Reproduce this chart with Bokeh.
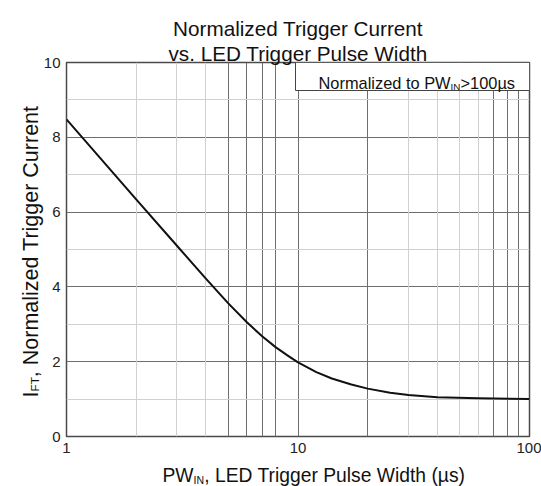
import math
from bokeh.plotting import figure
from bokeh.models import Label, BoxAnnotation, Grid, FixedTicker
from bokeh.embed import file_html
from bokeh.resources import INLINE

# ---- data ----
pulse_width_us = [1, 2, 3, 4, 5, 6, 7, 8, 9, 10, 12, 14, 17, 20, 25, 30, 40, 60, 100]
norm_trigger_current = [8.48, 6.34, 5.10, 4.22, 3.56, 3.06, 2.68, 2.39, 2.17, 1.98,
                        1.72, 1.55, 1.39, 1.28, 1.17, 1.11, 1.05, 1.02, 1.0]
x_ticks = [1, 10, 100]
y_ticks = [0, 2, 4, 6, 8, 10]
x_grid_dark = [5, 6, 7, 8, 10, 20, 70, 80, 90]
x_grid_light = [2, 3, 4, 30, 40, 50, 60]
y_grid_dark = [2, 4, 6, 8]
y_grid_light = [1, 3, 5, 7, 9]

FONT = "Liberation Sans"

# layout (pixels)
FL, FT_, FW, FH = 66, 62, 463, 374
X_MIN, X_MAX, Y_MIN, Y_MAX = 1, 100, 0, 10

p = figure(x_axis_type="log", x_range=(X_MIN, X_MAX), y_range=(Y_MIN, Y_MAX),
           frame_width=FW, frame_height=FH,
           min_border_left=FL, min_border_top=FT_, min_border_right=12, min_border_bottom=50,
           output_backend="svg", toolbar_location=None, title=None,
           background_fill_color="white", border_fill_color="white")

# pixel -> data helpers (for placing text only)
def dx(px):
    return 10 ** ((px - FL) / FW * math.log10(X_MAX / X_MIN)) * X_MIN

def dy(py):
    return Y_MIN + (FT_ + FH - py) / FH * (Y_MAX - Y_MIN)

p.outline_line_color = "#4a4a4a"
p.outline_line_width = 1.5

p.line(pulse_width_us, norm_trigger_current, line_color="#111111", line_width=2,
       line_join="round")

# axes
p.xaxis.ticker = FixedTicker(ticks=x_ticks)
p.yaxis.ticker = FixedTicker(ticks=y_ticks)
for ax in (p.xaxis[0], p.yaxis[0]):
    ax.axis_line_color = None
    ax.major_tick_line_color = None
    ax.minor_tick_line_color = None
    ax.major_label_text_font = FONT
    ax.major_label_text_font_size = "15px"
    ax.major_label_text_color = "#222222"
    ax.major_label_standoff = 6
    ax.major_tick_out = 0
    ax.major_tick_in = 0
p.xaxis.major_label_overrides = {1: "1", 10: "10", 100: "100"}

# grids
p.xgrid.ticker = FixedTicker(ticks=x_grid_dark)
p.xgrid.grid_line_color = "#6e6e6e"
p.ygrid.ticker = FixedTicker(ticks=y_grid_dark)
p.ygrid.grid_line_color = "#6e6e6e"
p.add_layout(Grid(dimension=0, ticker=FixedTicker(ticks=x_grid_light), grid_line_color="#d0d0d0"), "center")
p.add_layout(Grid(dimension=1, ticker=FixedTicker(ticks=y_grid_light), grid_line_color="#d0d0d0"), "center")

# note box
p.add_layout(BoxAnnotation(left=dx(295), right=X_MAX, bottom=dy(90), top=Y_MAX,
                           fill_color="white", fill_alpha=1.0,
                           line_color="#444444", line_alpha=1.0, line_width=1,
                           line_dash="solid", level="annotation"))

def lab(text, px, py, size, angle=0, align="left", baseline="alphabetic", place="center"):
    lbl = Label(x=dx(px), y=dy(py), x_units="data", y_units="data", text=text,
                text_font=FONT, text_font_size=size, text_color="#111111",
                angle=angle, text_align=align, text_baseline=baseline)
    p.add_layout(lbl, place)

# note text (inside frame)
lab("Normalized to PW", 318, 82, "16.4px")
lab("IN", 450, 86, "9.8px")
lab(">100\u00b5s", 460, 82, "16.4px")

# title
lab("Normalized Trigger Current", 297.5, 28, "20.7px", align="center", place="above")
lab("vs. LED Trigger Pulse Width", 297.5, 53, "20.7px", align="center", place="above")

# x axis label (gap left for the subscript)
lab("PW\u00a0\u00a0, LED Trigger Pulse Width (\u00b5s)", 162, 475, "19.3px", place="below")
lab("IN", 162 + 1.611 * 19.3, 479, "10.5px", place="right")

# y axis label (rotated, gap left for the subscript)
lab("I\u2002\u2006, Normalized Trigger Current", 30, 397, "21.5px", angle=math.pi / 2, place="left")
lab("FT", 34, 397 - 0.278 * 21.5, "11.8px", angle=math.pi / 2, place="left")

open("out.html", "w").write(file_html(p, INLINE))
